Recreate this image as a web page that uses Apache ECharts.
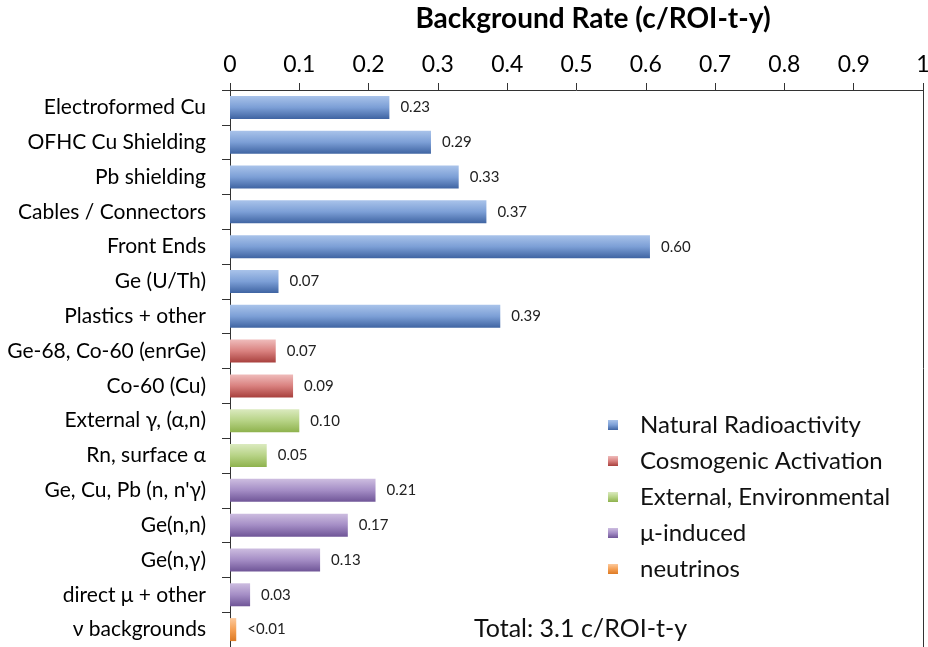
<!DOCTYPE html>
<html>
<head>
<meta charset="utf-8">
<script src="https://cdn.jsdelivr.net/npm/echarts@6/dist/echarts.min.js"></script>
<style>html,body{margin:0;padding:0;background:#fff;}#c{width:928px;height:647px;}</style>
</head>
<body>
<div id="c"></div>
<script>
var categories = ['Electroformed Cu','OFHC Cu Shielding','Pb shielding','Cables / Connectors','Front Ends','Ge (U/Th)','Plastics + other','Ge-68, Co-60 (enrGe)','Co-60 (Cu)','External γ, (α,n)','Rn, surface α','Ge, Cu, Pb (n, n\'γ)','Ge(n,n)','Ge(n,γ)','direct μ + other','ν backgrounds'];
var values = [0.23,0.29,0.33,0.37,0.606,0.07,0.39,0.066,0.091,0.10,0.053,0.21,0.17,0.13,0.029,0.009];
var valueLabels = ['0.23','0.29','0.33','0.37','0.60','0.07','0.39','0.07','0.09','0.10','0.05','0.21','0.17','0.13','0.03','<0.01'];
var groupIndex = [0,0,0,0,0,0,0,1,1,2,2,3,3,3,3,4];
var groupNames = ['Natural Radioactivity','Cosmogenic Activation','External, Environmental','μ-induced','neutrinos'];
var xTicks = [0,0.1,0.2,0.3,0.4,0.5,0.6,0.7,0.8,0.9,1];
var totalText = 'Total: 3.1 c/ROI-t-y';
var axisTitle = 'Background Rate (c/ROI-t-y)';

var gradStops = [
  ['#a9c3ea','#7c9fd6','#3f64a2'],
  ['#efbcbb','#d9817f','#a8403d'],
  ['#dbeabf','#b7d386','#8eb24d'],
  ['#cdbde0','#a48dc5','#6f5597'],
  ['#fcc99c','#f5a055','#dd7a24']
];
function grad(g){
  return new echarts.graphic.LinearGradient(0,0,0,1,[
    {offset:0,color:gradStops[g][0]},
    {offset:0.5,color:gradStops[g][1]},
    {offset:1,color:gradStops[g][2]}
  ]);
}
var FONT = 'Lato';
var series = groupNames.map(function(name,g){
  return {
    name:name,
    type:'bar',
    stack:'all',
    barWidth:23,
    itemStyle:{color:grad(g)},
    label:{show:true,position:'right',distance:11,fontFamily:FONT,fontSize:15,color:'#222',
      formatter:function(p){return valueLabels[p.dataIndex];}},
    data:values.map(function(v,i){return groupIndex[i]===g?v:null;})
  };
});
var chart = echarts.init(document.getElementById('c'));
chart.setOption({
  animation:false,
  backgroundColor:'#fff',
  title:{text:axisTitle,left:588,textAlign:'center',top:0,textStyle:{fontFamily:FONT,fontSize:28,fontWeight:'bold',color:'#000'}},
  grid:{left:230,right:5,top:90,bottom:0,containLabel:false,outerBoundsMode:'none'},
  legend:{orient:'vertical',left:603,top:408,itemWidth:10,itemHeight:10,itemGap:12,icon:'rect',
    data:groupNames,textStyle:{fontFamily:FONT,fontSize:24,color:'#111',padding:[0,0,0,17]},selectedMode:false},
  xAxis:{type:'value',position:'top',min:0,max:1,interval:0.1,
    axisLine:{show:true,lineStyle:{color:'#333',width:1}},
    axisTick:{show:true,length:7,lineStyle:{color:'#333'}},
    splitLine:{show:false},
    axisLabel:{fontFamily:FONT,fontSize:23,color:'#000',margin:14,
      formatter:function(v){var s=xTicks.filter(function(t){return Math.abs(t-v)<1e-9;});return s.length?String(s[0]):'';}}
  },
  yAxis:[{type:'category',data:categories,inverse:true,
    axisLine:{show:true,lineStyle:{color:'#333'}},
    axisTick:{show:true,length:8,lineStyle:{color:'#333'}},
    axisLabel:{fontFamily:FONT,fontSize:21,color:'#000',margin:24}
  },{type:'category',data:categories,inverse:true,position:'right',
    axisLine:{show:true,lineStyle:{color:'#333'}},axisTick:{show:false},axisLabel:{show:false}}],
  graphic:[{type:'text',left:474,top:616,style:{text:totalText,fontFamily:FONT,fontSize:25,fill:'#111'}}],
  series:series
});
</script>
</body>
</html>
